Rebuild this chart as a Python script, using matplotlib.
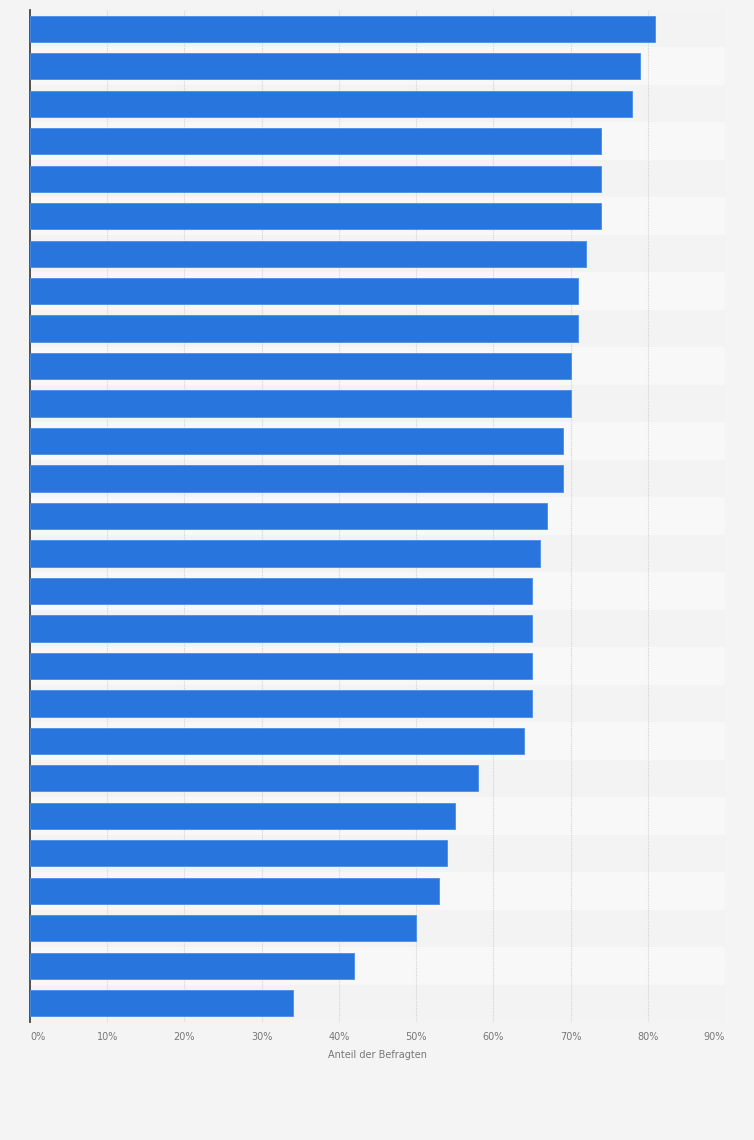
import matplotlib.pyplot as plt
import numpy as np

# share of respondents, top bar first
values = [81, 79, 78, 74, 74, 74, 72, 71, 71, 70, 70, 69, 69, 67, 66,
          65, 65, 65, 65, 64, 58, 55, 54, 53, 50, 42, 34]
ticks = [0, 10, 20, 30, 40, 50, 60, 70, 80, 90]
tick_labels = [str(t) + "%" for t in ticks]

bg = "#f4f4f4"
fig = plt.figure(figsize=(7.54, 11.4), dpi=100, facecolor=bg)
ax = fig.add_axes([30 / 754, 1 - 1022 / 1140, 695 / 754, 1012 / 1140])
ax.set_facecolor(bg)

n = len(values)
y = np.arange(n)

# alternating row stripes
for i in range(n):
    col = "#f3f3f3" if i % 2 == 0 else "#f8f8f8"
    ax.axhspan(i - 0.5, i + 0.5, color=col, zorder=0, lw=0)

ax.barh(y, values, height=0.7, color="#2876dd", edgecolor="#4a8de6",
        linewidth=0.6, zorder=3)

ax.set_xlim(0, 90)
ax.set_ylim(n - 0.5, -0.5)
ax.set_xticks(ticks)
ax.set_xticklabels(tick_labels)
ax.set_yticks([])
for t in ticks[1:]:
    ax.axvline(t, color="#d4d4d4", lw=0.8, ls=(0, (1, 1)), zorder=1)

labels = ax.get_xticklabels()
labels[0].set_ha("left")
labels[-1].set_ha("right")
ax.tick_params(axis="x", length=0, pad=7, labelsize=7, labelcolor="#777777")

for s in ["top", "right", "bottom"]:
    ax.spines[s].set_visible(False)
ax.spines["left"].set_color("#444444")
ax.spines["left"].set_linewidth(1.3)

ax.set_xlabel("Anteil der Befragten", fontsize=7, color="#777777", labelpad=6)

plt.savefig("out.png", dpi=100, facecolor=bg)
